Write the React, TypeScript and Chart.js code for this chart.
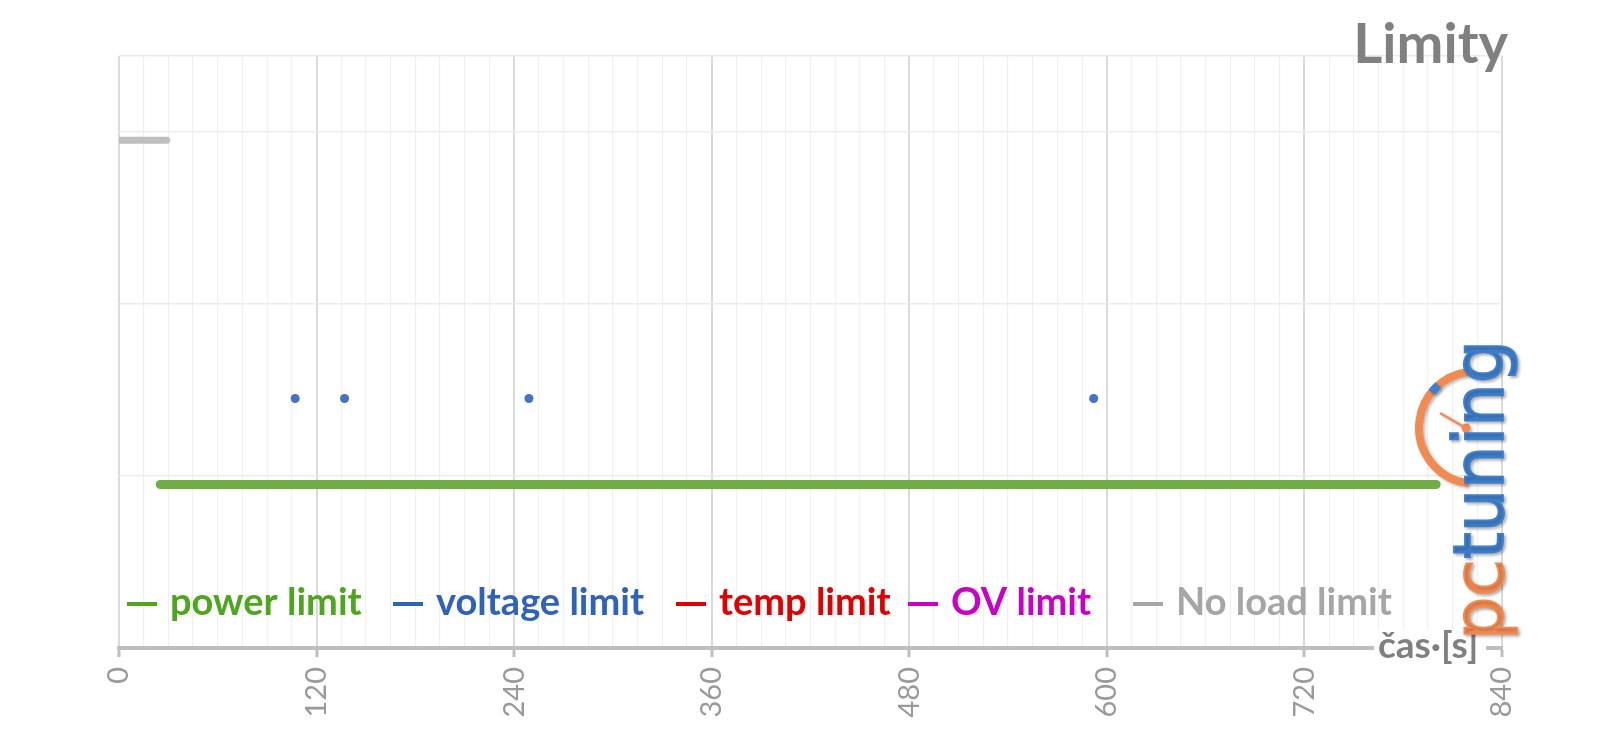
import { useEffect, useRef } from 'react';
import { Chart, registerables } from 'chart.js';

Chart.register(...registerables);

// ---- data ----
const X_TICK_LABELS = [0, 120, 240, 360, 480, 600, 720, 840];
const SERIES_LABELS = ['power limit', 'voltage limit', 'temp limit', 'OV limit', 'No load limit'];

const POWER_LIMIT_TIMES = [25, 800];
const POWER_LIMIT_VALUES = [0.95, 0.95];

const VOLTAGE_LIMIT_TIMES = [107, 137, 249, 592];
const VOLTAGE_LIMIT_VALUES = [1.45, 1.45, 1.45, 1.45];

const TEMP_LIMIT_TIMES: number[] = [];
const TEMP_LIMIT_VALUES: number[] = [];

const OV_LIMIT_TIMES: number[] = [];
const OV_LIMIT_VALUES: number[] = [];

const NO_LOAD_LIMIT_TIMES = [0, 29];
const NO_LOAD_LIMIT_VALUES = [2.95, 2.95];

// ---- styles ----
const SERIES_COLORS = ['#70ad47', '#4472c4', '#e00000', '#cc00cc', '#bfbfbf'];
const LEGEND_COLORS = ['#4ea61f', '#2f63b9', '#e00000', '#c800c8', '#a6a6a6'];
// legend entry offsets (px from plot-area left), as laid out in the reference
const LEGEND_OFFSETS = [8, 274, 557, 789, 1014];

const toPoints = (xs: number[], ys: number[]) => xs.map((x, i) => ({ x, y: ys[i] }));

const overlayPlugin = {
  id: 'overlay',
  afterDraw(chart: any) {
    const { ctx, chartArea: ca } = chart;
    ctx.save();

    // legend inside plot area
    ctx.font = 'bold 38px Lato';
    ctx.textBaseline = 'alphabetic';
    ctx.textAlign = 'left';
    const baseY = 607;
    chart.data.datasets.forEach((ds: any, i: number) => {
      const x = ca.left + LEGEND_OFFSETS[i];
      ctx.fillStyle = LEGEND_COLORS[i];
      ctx.fillRect(x, baseY - 13, 30, 4);
      ctx.fillText(ds.label, x + 43, baseY);
    });

    // title
    ctx.font = 'bold 56px Lato';
    ctx.fillStyle = '#808080';
    ctx.textAlign = 'right';
    ctx.fillText('Limity', ca.right + 6, 55);

    // x axis title with white background over axis line
    ctx.fillStyle = '#ffffff';
    ctx.fillRect(ca.right - 128, ca.bottom - 18, 112, 36);
    ctx.font = 'bold 37px Lato';
    ctx.fillStyle = '#808080';
    ctx.textAlign = 'left';
    ctx.fillText('čas·[s]', ca.right - 124, ca.bottom + 10);

    // pctuning logo
    const orange = '#f28a52';
    const blue = '#3f7fcb';
    ctx.shadowColor = 'rgba(0,0,0,0.25)';
    ctx.shadowBlur = 3;
    ctx.shadowOffsetX = 2;
    ctx.shadowOffsetY = 2;
    const cx = 1467, cy = 419.5, r = 56;
    ctx.lineWidth = 8;
    ctx.strokeStyle = orange;
    ctx.beginPath();
    ctx.arc(cx, cy, r, (97 * Math.PI) / 180, (263 * Math.PI) / 180);
    ctx.stroke();
    ctx.strokeStyle = blue;
    ctx.beginPath();
    ctx.arc(cx, cy, r, (219 * Math.PI) / 180, (229 * Math.PI) / 180);
    ctx.stroke();
    ctx.strokeStyle = orange;
    ctx.lineWidth = 2.5;
    ctx.beginPath();
    ctx.moveTo(1432, 405);
    ctx.lineTo(1458, 420);
    ctx.stroke();
    ctx.fillStyle = orange;
    ctx.beginPath();
    ctx.arc(1458, 420, 4.5, 0, Math.PI * 2);
    ctx.fill();

    ctx.save();
    ctx.translate(1495, 632);
    ctx.rotate(-Math.PI / 2);
    ctx.font = '60px "DejaVu Sans"';
    ctx.textAlign = 'left';
    ctx.textBaseline = 'alphabetic';
    const full = ctx.measureText('pctuning').width;
    ctx.scale(300 / full, 1.15);
    ctx.lineWidth = 1.6;
    ctx.lineJoin = 'miter';
    ctx.fillStyle = orange;
    ctx.strokeStyle = orange;
    ctx.fillText('pc', 0, 0);
    ctx.strokeText('pc', 0, 0);
    const pcw = ctx.measureText('pc').width;
    ctx.fillStyle = blue;
    ctx.strokeStyle = blue;
    ctx.fillText('tuning', pcw, 0);
    ctx.strokeText('tuning', pcw, 0);
    ctx.restore();

    ctx.restore();
  },
};

export default function App() {
  const ref = useRef<HTMLCanvasElement>(null);

  useEffect(() => {
    Chart.defaults.font.family = 'Lato';
    const datasets = [
      {
        label: SERIES_LABELS[0],
        data: toPoints(POWER_LIMIT_TIMES, POWER_LIMIT_VALUES),
        borderColor: SERIES_COLORS[0],
        backgroundColor: SERIES_COLORS[0],
        borderWidth: 9,
        borderCapStyle: 'round',
        pointRadius: 0,
      },
      {
        label: SERIES_LABELS[1],
        data: toPoints(VOLTAGE_LIMIT_TIMES, VOLTAGE_LIMIT_VALUES),
        borderColor: SERIES_COLORS[1],
        backgroundColor: SERIES_COLORS[1],
        showLine: false,
        pointRadius: 4.5,
        pointBorderWidth: 0,
      },
      {
        label: SERIES_LABELS[2],
        data: toPoints(TEMP_LIMIT_TIMES, TEMP_LIMIT_VALUES),
        borderColor: SERIES_COLORS[2],
        backgroundColor: SERIES_COLORS[2],
        borderWidth: 9,
        pointRadius: 0,
      },
      {
        label: SERIES_LABELS[3],
        data: toPoints(OV_LIMIT_TIMES, OV_LIMIT_VALUES),
        borderColor: SERIES_COLORS[3],
        backgroundColor: SERIES_COLORS[3],
        borderWidth: 9,
        pointRadius: 0,
      },
      {
        label: SERIES_LABELS[4],
        data: toPoints(NO_LOAD_LIMIT_TIMES, NO_LOAD_LIMIT_VALUES),
        borderColor: SERIES_COLORS[4],
        backgroundColor: SERIES_COLORS[4],
        borderWidth: 7,
        borderCapStyle: 'round',
        pointRadius: 0,
      },
    ];

    const chart = new Chart(ref.current as HTMLCanvasElement, {
      type: 'line',
      data: { datasets } as any,
      plugins: [overlayPlugin],
      options: {
        animation: false,
        responsive: true,
        maintainAspectRatio: false,
        layout: { padding: { left: 111, right: 90, top: 48, bottom: 0 } },
        plugins: {
          legend: { display: false },
          title: { display: false },
          tooltip: { enabled: false },
        },
        scales: {
          x: {
            type: 'linear',
            min: 0,
            max: 840,
            afterFit: (s: any) => {
              s.height = 89;
            },
            ticks: {
              stepSize: 15,
              autoSkip: false,
              minRotation: 90,
              maxRotation: 90,
              padding: 10,
              color: '#9a9a9a',
              font: { family: 'Lato', size: 29 },
              callback: (v: any) => (X_TICK_LABELS.includes(Number(v)) ? String(v) : ''),
            },
            grid: {
              color: (c: any) => (c.tick && c.tick.value % 120 === 0 ? '#dadada' : '#f0f0f0'),
              lineWidth: (c: any) => (c.tick && c.tick.value % 120 === 0 ? 2 : 1.2),
              tickColor: (c: any) => (c.tick && c.tick.value % 120 === 0 ? '#bfbfbf' : 'rgba(0,0,0,0)'),
              tickWidth: 3,
              tickLength: 9,
            },
            border: { display: true, color: '#bfbfbf', width: 4 },
          },
          y: {
            type: 'linear',
            min: 0,
            max: 3.44,
            afterFit: (s: any) => {
              s.width = 0;
            },
            ticks: { display: false, stepSize: 1 },
            grid: { color: '#ececec', lineWidth: 1.5, drawTicks: false },
            border: { display: false },
          },
        },
      } as any,
    });
    return () => chart.destroy();
  }, []);

  return (
    <div style={{ width: 1584, height: 729, position: 'relative' }}>
      <canvas ref={ref} />
    </div>
  );
}
